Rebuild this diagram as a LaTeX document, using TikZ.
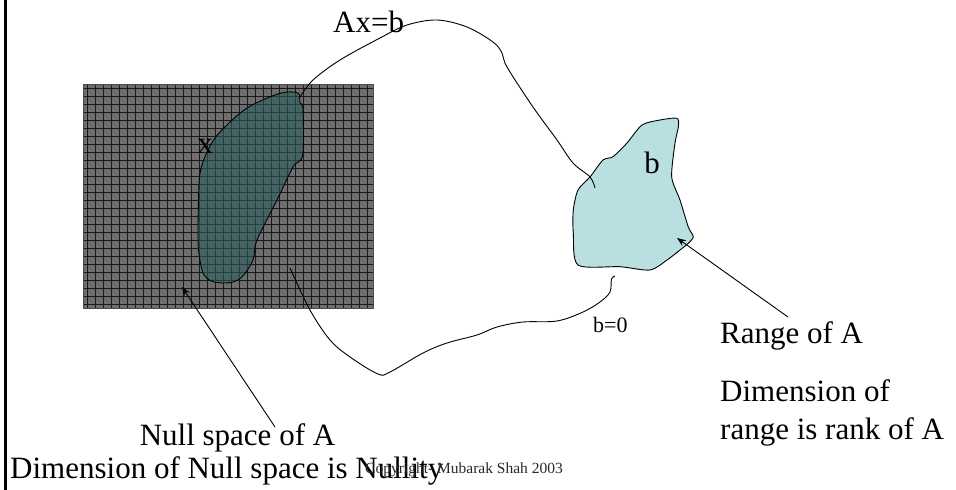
\documentclass[tikz,border=0pt]{standalone}
\usepackage{fontspec}
\setmainfont{Liberation Serif}
\usetikzlibrary{arrows.meta}
\definecolor{gridbg}{RGB}{110,110,110}
\definecolor{nullfill}{RGB}{43,93,93}
\definecolor{rangefill}{RGB}{185,223,225}
\definecolor{copygray}{RGB}{40,40,40}
\tikzset{
  lbl/.style={inner sep=0pt, font=\fontsize{31}{36}\selectfont},
  smalllbl/.style={inner sep=0pt, font=\fontsize{22}{26}\selectfont},
  copylbl/.style={inner sep=0pt, text=copygray, font=\fontsize{15.5}{18}\selectfont},
  curve/.style={line width=0.9pt, black},
  pointer/.style={line width=0.9pt, black, -{Stealth[length=9pt,width=7pt]}},
  blobline/.style={line width=0.9pt, black}
}
\begin{document}
\begin{tikzpicture}[x=1pt,y=-1pt]
\useasboundingbox (0,0) rectangle (956,490);
% left border
\draw[line width=3pt] (5,0) -- (5,490);
% hatched domain rectangle
\fill[gridbg] (83,84) rectangle (373,308);
\begin{scope}
\clip (83,84) rectangle (373,308);
\foreach \i in {0,...,36} {
  \draw[black!90, line width=1.2pt] ({87.5+\i*8},84) -- ({87.5+\i*8},308);
}
\foreach \j in {0,...,28} {
  \draw[black!90, line width=1.2pt] (83,{88.5+\j*8}) -- (373,{88.5+\j*8});
}
\end{scope}
\draw[black!70, line width=0.8pt] (83,84) rectangle (373,308);
% null space blob
\draw[blobline, fill=nullfill, fill opacity=0.6]
  plot[smooth cycle, tension=0.5] coordinates {
  (298,93) (300,103) (303,109) (302.7,155) (293,167) (277,200) (257,240)
  (253,260) (242,277) (230,282.7) (213,281.7) (203,273) (198.3,247)
  (198.3,210) (200,173) (208,150) (220,132) (247,108) (280,93.3)};
% range blob
\draw[blobline, fill=rangefill]
  plot[smooth cycle, tension=0.45] coordinates {
  (578,265) (573.3,233) (573.3,210) (578,190) (590,177) (603,160) (613,156.7)
  (627,143) (642,125) (660,120) (677,118.3) (678.3,127) (675,143) (671.7,177)
  (680,200) (688.3,227) (693.3,236.7) (688.3,243.3) (680,250) (667,260)
  (650,270) (620,266.7)};
% Ax=b curve
\coordinate (axstart) at (300,97);
\coordinate (axend) at (595,188);
\draw[curve] plot[smooth, tension=0.55] coordinates {
  (axstart) (313,80) (340,60) (380,38) (407,25) (437,20) (467,27) (493,42)
  (502,53) (507,67) (533,107) (557,140) (573,163) (590,177) (axend)};
% b=0 curve
\coordinate (bzstart) at (290,268);
\coordinate (bzend) at (615,276);
\draw[curve] plot[smooth, tension=0.55] coordinates {
  (bzstart) (310,310) (330,340) (350,357) (378,374) (390,372) (423,353)
  (447,343) (477,335) (497,327) (523,322) (557,321) (583,312) (600,302)
  (610,292) (611.5,279) (bzend)};
% labels
\node[lbl, anchor=base west] (axb) at (333,32) {Ax=b};
\node[lbl, anchor=base] (xl) at (205,153) {x};
\node[lbl, anchor=base] (bl) at (652,173) {b};
\node[smalllbl, anchor=base west] (bzero) at (593,332) {b=0};
\node[lbl, anchor=base west] (range) at (720,343) {Range of A};
\node[lbl, anchor=base west] (dimr1) at (720,401) {Dimension of};
\node[lbl, anchor=base west] (dimr2) at (720,439) {range is rank of A};
\node[lbl, anchor=base] (nulls) at (237.5,445) {Null space of A};
\node[lbl, anchor=base west] (dimn) at (10,478) {Dimension of Null space is Nullity};
\node[copylbl, anchor=base west] (copy) at (365,473) {Copyright- Mubarak Shah 2003};
% pointers
\coordinate (nulltail) at (275,427);
\coordinate (nullhead) at (182,287);
\coordinate (rangetail) at (788,317);
\coordinate (rangehead) at (677,238);
\draw[pointer] (nulltail) -- (nullhead);
\draw[pointer] (rangetail) -- (rangehead);
\end{tikzpicture}
\end{document}
